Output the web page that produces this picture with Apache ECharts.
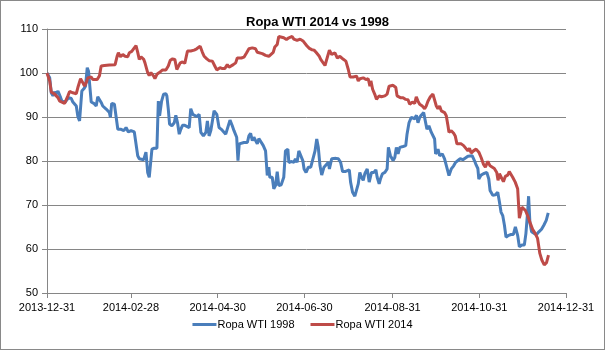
<!DOCTYPE html>
<html><head><meta charset="utf-8">
<script src="https://cdn.jsdelivr.net/npm/echarts@6/dist/echarts.min.js"></script>
<style>html,body{margin:0;padding:0;background:#fff}#c{width:605px;height:350px;box-sizing:border-box;border:1px solid #898989}</style>
</head><body><div id="c"></div>
<script>
const titleText = 'Ropa WTI 2014 vs 1998';
const seriesNames = ['Ropa WTI 1998', 'Ropa WTI 2014'];
const tickDays = [0, 59, 120, 181, 243, 304, 365];
const tickLabels = ['2013-12-31', '2014-02-28', '2014-04-30', '2014-06-30', '2014-08-31', '2014-10-31', '2014-12-31'];
const yTicks = [50, 60, 70, 80, 90, 100, 110];

// Ropa WTI 1998 (days since 2013-12-31, index value)
const days98 = [0,1.9,3.0,4.2,5.4,6.5,7.7,8.9,9.6,10.5,11.9,12.8,14.2,15.2,16.1,17.1,18.2,19.4,20.6,21.7,22.9,23.6,24.5,25.9,27.1,28.3,29.2,29.9,31.1,32.9,34.6,35.7,37.1,38.1,39.2,40.4,41.6,42.7,43.9,44.6,45.5,47.4,48.6,49.8,50.9,52.1,54.0,55.6,57.2,59.1,61.4,62.6,63.8,64.9,66.1,68.0,69.6,70.8,71.9,73.1,73.8,75.4,77.3,78.3,79.2,80.6,82.0,83.6,84.3,85.3,86.2,87.8,89.5,90.6,91.8,93.0,94.1,95.3,96.9,98.3,100.0,101.1,102.5,103.9,105.3,107.0,108.2,110.0,111.7,112.8,114.0,115.2,116.3,117.5,119.4,121.0,122.6,124.0,125.7,126.8,128.7,130.3,131.5,133.4,134.3,135.2,136.2,138.5,140.9,142.0,143.2,144.4,145.5,146.7,147.9,149.0,150.2,152.1,153.7,154.9,156.0,156.7,158.4,159.5,160.7,161.9,163.0,164.7,166.5,167.7,169.4,170.1,171.7,173.6,174.7,175.9,177.1,179.9,180.8,182.2,183.8,185.5,186.9,188.5,189.7,190.8,192.0,193.2,194.8,196.2,197.9,198.6,200.2,201.4,203.2,204.9,206.5,207.9,209.6,210.7,212.6,213.5,214.9,216.5,217.7,218.9,220.0,221.2,222.4,223.5,225.2,226.6,228.2,229.9,231.3,232.2,233.6,234.5,235.9,237.6,239.2,240.1,241.5,243.4,244.6,245.7,246.9,248.1,250.4,252.3,253.2,254.6,256.2,258.6,259.8,260.9,262.1,263.2,264.9,266.3,267.2,268.6,270.3,271.4,272.6,273.3,275.0,276.1,278.0,279.6,280.8,282.7,284.3,286.0,287.4,289.0,290.6,292.5,293.6,296.0,297.1,299.0,300.6,301.8,303.0,303.7,305.3,306.9,308.3,309.3,310.7,311.6,313.5,315.3,317.0,318.2,319.3,320.5,321.7,322.8,324.7,326.3,328.0,329.4,331.0,332.2,334.0,335.7,336.8,338.0,338.7,339.6,340.8,342.7,344.3,345.9,347.8,349.4,351.1,352.5];
const vals98 = [100,98.9,95.5,94.8,95.7,95.2,95.9,96.1,94.4,93.6,93.3,93.4,93.3,94.4,94.6,94.2,93.4,93.3,92.5,90.1,89.1,92.1,95.9,96.4,97.0,101.2,100.4,97.8,93.4,93.1,92.5,94.6,94.4,93.3,92.5,92.7,91.8,91.4,91.0,89.9,93.1,92.9,92.5,87.2,86.9,87.2,86.9,87.6,86.6,86.9,86.6,86.6,81.2,80.5,80.3,80.3,82.0,77.4,76.3,76.1,82.7,82.9,82.9,93.6,90.3,93.6,95.2,95.3,94.8,91.8,88.4,88.0,88.7,90.4,88.7,86.1,87.2,88.1,88.1,88.4,87.6,91.9,90.6,90.3,90.1,90.6,86.5,85.7,86.5,89.1,85.7,86.9,87.1,91.4,90.6,87.6,87.2,86.9,86.1,85.7,89.3,88.0,86.9,85.4,80.1,83.9,83.6,84.2,84.2,85.7,86.3,84.6,85.4,85.0,83.9,85.1,85.4,83.5,82.3,76.7,78.6,76.3,76.3,73.7,74.4,77.6,74.4,74.6,76.3,82.3,82.7,79.6,79.9,79.7,80.5,79.7,82.3,80.1,78.2,77.4,78.6,78.6,78.8,82.3,85.0,83.1,78.9,76.8,78.6,78.9,79.7,78.2,80.5,80.1,80.6,80.5,79.7,77.6,77.6,77.8,78.0,75.2,72.9,72.0,72.2,74.8,77.4,76.3,75.6,77.1,78.2,75.2,77.4,77.4,78.0,76.3,74.8,75.9,77.1,77.4,78.2,83.1,81.2,80.1,80.8,83.1,81.6,83.1,83.3,83.5,86.1,88.7,89.9,89.6,90.4,88.7,89.9,90.4,91.0,91.4,87.2,88.0,86.5,86.1,85.0,81.6,82.7,81.2,81.6,80.5,80.1,76.7,78.2,78.9,79.7,80.1,80.5,80.3,80.6,81.1,81.4,81.2,80.1,79.1,78.3,75.9,76.8,77.1,76.7,77.4,75.9,73.3,72.2,72.3,72.9,70.7,68.4,67.6,65.4,62.7,63.1,63.3,63.3,65.0,63.1,60.5,60.9,60.9,63.5,68.4,72.0,66.1,63.9,63.5,63.3,63.9,64.5,65.4,66.5,68.2];

// Ropa WTI 2014 (days since 2013-12-31, index value)
const days14 = [0,1.9,3.0,5.4,6.5,7.7,8.9,10.5,12.4,13.5,14.7,15.9,18.2,20.6,21.7,23.6,25.2,26.4,27.6,28.7,29.9,31.1,32.2,33.4,35.3,36.9,38.1,40.4,43.9,47.9,49.3,50.2,51.6,53.3,54.9,56.8,57.9,59.6,61.4,62.6,63.8,64.9,66.1,68.0,68.9,70.8,71.9,73.1,75.0,75.9,77.3,79.0,81.3,83.6,85.3,86.7,88.3,89.9,91.3,92.3,93.7,95.3,96.9,98.8,101.1,103.5,105.3,107.7,109.3,110.5,112.4,114.0,115.2,116.3,118.0,119.4,120.3,121.7,123.3,125.0,126.8,128.0,129.2,131.0,132.7,133.8,135.0,136.7,138.5,140.4,142.0,144.4,146.7,147.9,149.0,151.4,153.7,156.0,157.2,159.1,160.2,161.9,163.0,164.2,166.5,168.4,170.1,171.2,172.4,173.6,174.7,175.9,178.0,180.3,182.7,184.5,186.2,187.8,189.2,190.2,191.5,192.5,193.9,195.5,198.6,200.2,202.5,204.2,206.0,208.4,210.2,211.9,213.1,215.4,217.7,218.9,220.1,222.4,224.3,225.9,227.1,227.8,229.0,230.6,231.7,233.6,235.2,237.6,239.2,240.6,243.4,245.3,246.2,247.6,248.5,250.4,252.3,253.9,255.1,256.9,258.6,259.7,260.9,262.1,263.9,265.6,266.7,267.9,269.6,271.4,272.6,273.8,274.9,276.1,277.3,278.4,279.6,280.8,282.0,282.7,284.3,286.0,287.1,288.3,289.7,291.3,293.0,294.3,296.0,297.1,298.3,299.9,301.8,303.7,305.3,306.9,308.3,310.0,311.6,313.0,314.6,316.3,317.2,318.2,319.3,321.0,322.3,324.0,325.1,326.3,327.5,329.3,331.0,332.2,333.3,334.0,335.0,336.4,338.0,339.6,341.5,343.4,345.0,346.6,348.0,349.7,351.3,352.7];
const vals14 = [100,98.2,95.7,95.2,94.9,94.4,93.6,93.4,93.1,93.4,94.8,95.8,95.5,95.3,96.7,98.7,97.8,97.0,97.8,98.9,99.3,99.1,98.5,98.2,98.5,99.4,101.6,101.7,101.8,101.9,103.8,104.6,103.7,104.2,103.8,103.7,104.6,104.9,105.7,106.2,104.7,103.1,103.7,103.1,102.3,100.1,99.4,100.1,99.3,98.7,99.7,100.1,100.7,100.7,101.6,102.9,103.2,103.1,100.8,100.7,102.3,102.5,102.2,105.0,105.0,105.2,105.5,106.1,104.7,103.8,103.2,102.8,102.5,102.7,101.6,100.7,100.8,101.2,101.0,101.0,101.9,101.3,101.4,101.9,102.3,103.4,103.1,103.4,103.6,104.6,105.5,105.7,105.5,104.7,104.6,104.4,104.0,103.8,104.2,104.7,105.9,106.5,108.3,108.5,108.0,107.6,108.0,107.7,108.3,107.7,108.0,107.4,107.7,107.2,106.2,105.6,105.3,105.2,104.7,105.0,103.8,103.1,102.8,101.7,105.2,104.2,104.6,103.4,103.8,103.1,102.7,100.8,99.1,99.1,99.3,98.2,98.7,98.9,98.5,98.7,97.0,98.2,96.3,95.1,94.0,94.8,94.6,94.8,95.2,97.0,97.2,96.7,94.8,95.2,94.4,94.4,94.0,93.9,92.9,93.4,93.1,94.6,93.6,92.9,92.5,91.9,92.5,93.6,94.6,95.2,95.5,92.5,91.9,92.5,91.4,91.8,91.0,90.3,88.0,86.5,86.9,86.3,85.7,83.9,84.2,83.9,83.5,83.1,82.3,82.9,81.8,82.3,82.7,82.0,80.8,79.3,78.6,79.9,78.9,78.9,78.3,77.4,75.6,77.1,76.7,75.3,76.5,76.8,77.6,77.4,76.3,75.2,73.7,67.0,68.4,69.5,69.9,68.8,67.6,66.1,64.5,63.5,62.4,59.0,57.5,56.4,56.9,58.6];

const zip = (d, v) => d.map((x, i) => [x, v[i]]);
const font = "'Liberation Sans', Arial, sans-serif";
const chart = echarts.init(document.getElementById('c'), null, {renderer: 'canvas'});
chart.setOption({
  animation: false,
  title: {text: titleText, left: 240, top: 10, textStyle: {fontFamily: font, fontSize: 13, fontWeight: 'bold', color: '#000'}},
  legend: {bottom: 14, left: 'center', itemWidth: 24, itemHeight: 3, itemGap: 16, icon: 'rect',
    textStyle: {fontFamily: font, fontSize: 11, color: '#000', padding: [0, 0, 0, -4]}, data: seriesNames},
  grid: {left: 46, right: 38, top: 28, bottom: 56},
  xAxis: {type: 'value', min: 0, max: 365,
    axisLine: {lineStyle: {color: '#868686'}},
    axisTick: {show: true, length: 5, lineStyle: {color: '#868686'}, customValues: tickDays},
    axisLabel: {customValues: tickDays, fontFamily: font, fontSize: 11, color: '#000', margin: 9,
      formatter: v => { const i = tickDays.indexOf(Math.round(v)); return i >= 0 ? tickLabels[i] : ''; }},
    splitLine: {show: false}},
  yAxis: {type: 'value', min: yTicks[0], max: yTicks[yTicks.length - 1], interval: 10,
    axisLine: {show: true, lineStyle: {color: '#868686'}},
    axisTick: {show: true, length: 5, lineStyle: {color: '#868686'}},
    axisLabel: {fontFamily: font, fontSize: 11, color: '#000', margin: 9},
    splitLine: {lineStyle: {color: '#868686', width: 1}}},
  series: [
    {name: seriesNames[0], type: 'line', data: zip(days98, vals98), showSymbol: false, symbol: 'none',
      lineStyle: {color: '#4A7EBB', width: 3}, itemStyle: {color: '#4A7EBB'}},
    {name: seriesNames[1], type: 'line', data: zip(days14, vals14), showSymbol: false, symbol: 'none',
      lineStyle: {color: '#BE4B48', width: 3}, itemStyle: {color: '#BE4B48'}}
  ]
});
</script></body></html>
